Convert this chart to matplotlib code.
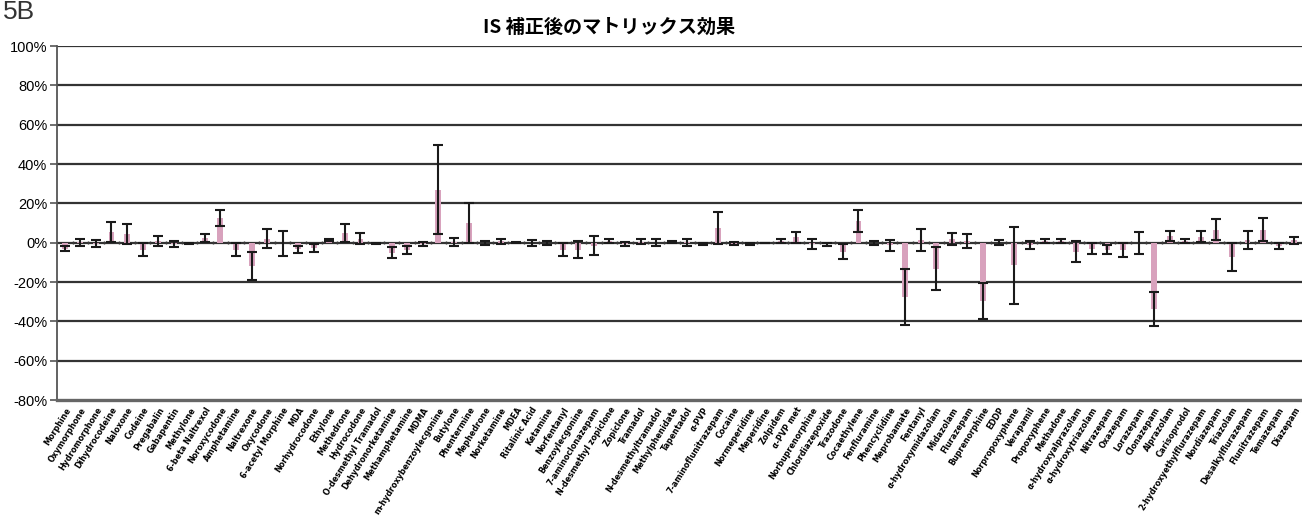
import numpy as np
import matplotlib.pyplot as plt

plt.rcParams['font.family'] = ['Liberation Sans', 'DejaVu Sans']

# 各化合物のマトリックス効果 (%) と標準偏差
compounds = [
    "Morphine", "Oxymorphone", "Hydromorphone", "Dihydrocodeine", "Naloxone",
    "Codeine", "Pregabalin", "Gabapentin", "Methylone", "6-beta Naltrexol",
    "Noroxycodone", "Amphetamine", "Naltrexone", "Oxycodone", "6-acetyl Morphine",
    "MDA", "Norhydrocodone", "Ethylone", "Methedrone", "Hydrocodone",
    "O-desmethyl Tramadol", "Dehydronorketamine", "Methamphetamine", "MDMA",
    "m-hydroxybenzoylecgonine", "Butylone", "Phentermine", "Mephedrone",
    "Norketamine", "MDEA", "Ritalinic Acid", "Ketamine", "Norfentanyl",
    "Benzoylecgonine", "7-aminoclonazepam", "N-desmethyl zopiclone", "Zopiclone",
    "Tramadol", "N-desmethyltramadol", "Methylphenidate", "Tapentadol", "α-PVP",
    "7-aminoflunitrazepam", "Cocaine", "Normeperidine", "Meperidine", "Zolpidem",
    "α-PVP met", "Norbuprenorphine", "Chlordiazepoxide", "Trazodone",
    "Cocaethylene", "Fenfluramine", "Phencyclidine", "Meprobamate", "Fentanyl",
    "α-hydroxymidazolam", "Midazolam", "Flurazepam", "Buprenorphine", "EDDP",
    "Norpropoxyphene", "Verapamil", "Propoxyphene", "Methadone",
    "α-hydroxyalprazolam", "α-hydroxytriazolam", "Nitrazepam", "Oxazepam",
    "Lorazepam", "Clonazepam", "Alprazolam", "Carisoprodol",
    "2-hydroxyethylflurazepam", "Nordiazepam", "Triazolam", "Desalkylflurazepam",
    "Flunitrazepam", "Temazepam", "Diazepam",
]

effect = [
    -3.0, 0.3, -0.5, 5.5, 4.5, -3.5, 0.8, -0.5, -0.3, 2.5,
    12.5, -3.5, -12.0, 2.0, -0.3, -3.3, -2.5, 1.3, 5.0, 2.0,
    -0.3, -5.0, -3.7, -0.8, 27.0, 0.3, 10.0, -0.3, 0.7, 0.0,
    0.0, -0.2, -3.5, -3.5, -1.5, 1.0, -0.5, 0.5, 0.0, 0.3,
    0.2, -0.5, 7.5, -0.5, -0.8, -0.2, 0.8, 2.8, -0.8, -0.8,
    -4.5, 11.0, 0.0, -1.3, -27.7, 1.3, -13.3, 2.0, 0.8, -29.7,
    0.0, -11.5, -1.0, 1.0, 1.0, -4.5, -3.0, -3.5, -3.5, -0.2,
    -33.7, 3.5, 1.0, 3.0, 6.7, -7.2, 1.3, 6.7, -1.5, 1.2,
]

sd = [
    1.3, 1.8, 1.8, 5.0, 5.0, 3.5, 2.5, 1.5, 0.3, 2.0,
    4.0, 3.2, 7.2, 4.8, 6.3, 1.7, 2.0, 0.5, 4.5, 2.7,
    0.2, 3.0, 2.0, 1.0, 22.5, 2.0, 10.0, 1.0, 1.2, 0.2,
    1.5, 1.0, 3.5, 4.3, 5.0, 1.0, 1.0, 1.2, 1.7, 0.5,
    1.8, 0.6, 8.3, 0.8, 0.6, 0.2, 1.0, 2.8, 2.5, 0.8,
    3.8, 5.8, 1.0, 2.7, 14.3, 5.7, 11.0, 3.0, 3.5, 9.0,
    1.2, 19.5, 2.0, 1.0, 1.0, 5.5, 2.7, 2.2, 3.6, 5.4,
    8.7, 2.5, 1.0, 2.8, 5.2, 7.0, 4.7, 6.0, 1.5, 1.8,
]

x = np.arange(len(compounds))

fig = plt.figure(figsize=(13.02, 5.24), dpi=100)
ax = fig.add_axes([0.0438, 0.2366, 0.9562, 0.6755])

# 横グリッド
for yv in range(-60, 101, 20):
    ax.axhline(yv, color='#333333', lw=1.6, zorder=1)

ax.bar(x, effect, width=0.38, color='#d8a2bd', zorder=2)
ax.errorbar(x, effect, yerr=sd, fmt='none', ecolor='#1a1a1a',
            elinewidth=1.5, capsize=3.8, capthick=1.5, zorder=3)

# 0% 軸の目盛り
ax.vlines(x[:-1] + 0.5, -0.9, 0.9, color='#3a3a3a', lw=1.0, zorder=2)

ax.set_xlim(-0.5, len(compounds) - 0.5)
ax.set_ylim(-80, 100)
ax.set_yticks(range(-80, 101, 20))
ax.set_yticklabels([f"{v}%" for v in range(-80, 101, 20)], fontsize=10.5)
ax.tick_params(axis='y', direction='out', length=5, width=1.2, color='#555555', pad=2)

ax.set_xticks(x)
ax.set_xticklabels(compounds, rotation=58, ha='right', rotation_mode='anchor',
                   fontsize=6.4, fontweight='bold', fontstretch='condensed',
                   family='DejaVu Sans')
ax.tick_params(axis='x', length=0, pad=4)

for s in ['top', 'right']:
    ax.spines[s].set_visible(False)
ax.spines['left'].set_color('#555555')
ax.spines['left'].set_linewidth(1.3)
ax.spines['bottom'].set_color('#666666')
ax.spines['bottom'].set_linewidth(2.4)

fig.text(0.468, 0.948, "IS 補正後のマトリックス効果", ha='center', va='center',
         fontsize=13.8, fontweight='bold', family=['Noto Sans CJK JP', 'DejaVu Sans'])
fig.text(0.002, 1 - 19 / 524, "5B", ha='left', va='baseline', fontsize=19, color='#333333')

fig.savefig('out.png', dpi=100)
